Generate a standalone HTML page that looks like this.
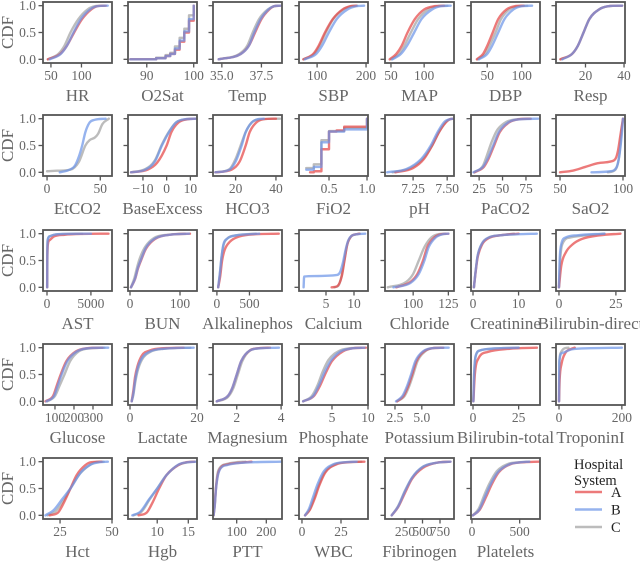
<!DOCTYPE html>
<html><head><meta charset="utf-8">
<style>
html,body{margin:0;padding:0;background:#fff;}
svg{display:block;font-family:"Liberation Serif",serif;}
</style></head>
<body>
<svg id="chart" width="640" height="578" viewBox="0 0 640 578" xmlns="http://www.w3.org/2000/svg"></svg>
<script>
const panelNames=["HR","O2Sat","Temp","SBP","MAP","DBP","Resp",
"EtCO2","BaseExcess","HCO3","FiO2","pH","PaCO2","SaO2",
"AST","BUN","Alkalinephos","Calcium","Chloride","Creatinine","Bilirubin-direct",
"Glucose","Lactate","Magnesium","Phosphate","Potassium","Bilirubin-total","TroponinI",
"Hct","Hgb","PTT","WBC","Fibrinogen","Platelets"];
const xLims=[[37,150],[86,100.7],[34.44,38.8],[63,204],[41,145],[26.5,126.5],[4.7,40.5],
[-3.8,61],[-16.3,12.8],[8.8,43],[0.105,1.013],[7.044,7.55],[16.3,90],[46.8,101.6],
[-455,7400],[-4,134],[-60,1000],[0.18,12.5],[80,129],[-0.44,14.7],[-1.3,29],
[37,400],[-0.6,20],[0.93,4.04],[0.42,10],[1.57,8],[-1.1,36.7],[-9.6,210],
[16.8,50],[5.3,16.4],[20,253],[-1.9,42.3],[-36,950],[-10,713]];
const xTicks=[[50,100],[90,100],[35.0,37.5],[100,200],[50,100],[50,100],[20,40],
[0,50],[-10,0,10],[20,40],[0.5,1.0],[7.25,7.50],[25,50,75],[50,100],
[0,5000],[0,100],[0,500],[5,10],[100,125],[0,10],[0,25],
[100,200,300],[0,20],[2,4],[5,10],[2.5,5.0],[0,25],[0,200],
[25,50],[10,15],[100,200],[0,25],[250,500,750],[0,500]];
const xTickLabels=[["50","100"],["90","100"],["35.0","37.5"],["100","200"],["50","100"],["50","100"],["20","40"],
["0","50"],["\u221210","0","10"],["20","40"],["0.5","1.0"],["7.25","7.50"],["25","50","75"],["50","100"],
["0","5000"],["0","100"],["0","500"],["5","10"],["100","125"],["0","10"],["0","25"],
["100","200","300"],["0","20"],["2","4"],["5","10"],["2.5","5.0"],["0","25"],["0","200"],
["25","50"],["10","15"],["100","200"],["0","25"],["250","500","750"],["0","500"]];
const stepPanels=["O2Sat","FiO2"];
const yTicks=[0,0.5,1];
const yTickLabels=["0.0","0.5","1.0"];
const seriesNames=["A","B","C"];
const serA=[
[[45,0],[65,.1],[76,.25],[88,.5],[101,.75],[116,.93],[126,.99],[140,1]],
[[86.5,0],[92,.02],[94,.06],[95,.1],[96,.18],[97,.33],[98,.5],[99,.72],[100,1]],
[[34.8,0],[36.2,.1],[36.7,.25],[37.1,.5],[37.5,.75],[38.0,.93],[38.3,.99],[38.7,1]],
[[72,0],[92,.1],[103,.25],[116,.5],[132,.75],[152,.93],[168,.99],[180,1]],
[[48,0],[58,.1],[66,.25],[75,.5],[86,.75],[100,.93],[115,.99],[130,1]],
[[35,0],[44,.1],[50,.25],[58,.5],[66,.75],[78,.93],[90,.99],[103,1]],
[[7,0],[13,.1],[16,.25],[19,.5],[22,.75],[27,.93],[32,.99],[39,1]],
[],
[[-15,0],[-8,.05],[-4,.18],[0,.5],[2,.75],[5,.93],[9,.99],[12,1]],
[[10,0],[18,.05],[22,.2],[25,.5],[27,.75],[30,.92],[34,.99],[40,1]],
[[.25,0],[.3,.02],[.4,.02],[.4,.43],[.5,.43],[.5,.76],[.6,.78],[.7,.8],[.7,.85],[1,.9],[1,1]],
[[7.12,0],[7.25,.08],[7.33,.25],[7.39,.5],[7.44,.75],[7.49,.93],[7.52,.99],[7.55,1]],
[[20,0],[30,.1],[35,.25],[41,.5],[47,.75],[57,.93],[68,.99],[80,1]],
[[50,0],[60,.03],[70,.1],[80,.17],[90,.2],[94,.25],[96,.4],[98,.7],[100,1]],
[[20,0],[40,.5],[100,.8],[300,.88],[800,.95],[2000,.98],[4000,.995],[7000,1]],
[[2,0],[10,.15],[16,.35],[22,.5],[32,.72],[50,.9],[80,.98],[120,1]],
[[20,0],[50,.2],[80,.5],[120,.7],[200,.85],[350,.95],[600,.99],[950,1]],
[[6,0],[7,.02],[7.8,.2],[8.3,.5],[8.8,.8],[9.5,.95],[10.5,.99],[11,1]],
[[88,0],[98,.1],[103,.25],[107,.5],[110,.75],[115,.93],[120,.99],[125,1]],
[[.2,0],[.6,.3],[1,.55],[2,.8],[3.5,.92],[6,.97],[10,1]],
[[0,0],[1,.4],[3,.65],[6,.8],[10,.9],[18,.97],[27,1]],
[[50,0],[90,.1],[110,.3],[130,.5],[160,.75],[210,.93],[270,.99],[350,1]],
[[.5,0],[1,.2],[1.5,.45],[2.2,.65],[3.5,.85],[6,.95],[10,.99],[16,1]],
[[1.1,0],[1.6,.1],[1.8,.25],[2.0,.5],[2.2,.75],[2.6,.95],[3.0,.99],[3.5,1]],
[[1,0],[2.5,.1],[3.3,.28],[4.2,.55],[5,.75],[6.5,.93],[8,.99],[9.7,1]],
[[2.7,0],[3.3,.1],[3.7,.27],[4.1,.5],[4.5,.75],[5.2,.93],[6,.99],[7,1]],
[[.2,0],[1,.5],[3,.8],[8,.92],[20,.98],[35,1]],
[[0,0],[2,.4],[8,.7],[20,.9],[40,.98],[50,1]],
[[20,0],[24,.05],[27,.25],[30,.5],[33,.75],[37,.93],[40,.99],[45,1]],
[[7,0],[8.3,.05],[9.3,.25],[10.3,.5],[11.5,.75],[13.3,.93],[14.7,.99],[16,1]],
[[22,0],[26,.2],[30,.5],[36,.75],[45,.88],[70,.95],[110,.98],[150,1]],
[[2,0],[5,.1],[8,.3],[11,.55],[15,.8],[22,.95],[30,.99],[40,1]],
[[60,0],[150,.15],[250,.42],[350,.68],[500,.88],[700,.98],[900,1]],
[[10,0],[80,.1],[150,.35],[200,.55],[280,.8],[400,.95],[550,.99],[700,1]]];
const serB=[
[[48,0],[66,.1],[76,.25],[87,.5],[99,.75],[114,.93],[126,.99],[143,1]],
[[86.5,0],[92,.02],[94,.06],[95,.1],[96,.2],[97,.35],[98,.52],[99,.75],[100,1]],
[[34.8,0],[36.2,.1],[36.7,.25],[37.05,.5],[37.45,.75],[37.95,.93],[38.3,.99],[38.7,1]],
[[75,0],[98,.1],[110,.25],[124,.5],[140,.75],[162,.93],[180,.99],[196,1]],
[[52,0],[65,.1],[74,.25],[85,.5],[96,.75],[112,.93],[125,.99],[140,1]],
[[38,0],[50,.1],[57,.25],[66,.5],[75,.75],[88,.93],[100,.99],[115,1]],
[[8,0],[13,.1],[16,.25],[19,.5],[22,.75],[27,.93],[32,.99],[39,1]],
[[12,0],[20,.04],[26,.12],[30,.3],[33,.5],[36,.75],[40,.93],[45,.98],[55,1]],
[[-15,0],[-9,.05],[-5,.2],[-2,.5],[1,.75],[4,.93],[8,.99],[13,1]],
[[10,0],[17,.05],[20,.2],[23,.5],[25,.75],[28,.93],[31,.99],[34,1]],
[[.2,.05],[.3,.1],[.4,.1],[.4,.56],[.5,.56],[.5,.76],[.7,.8],[1,.88],[1,1]],
[[7.06,0],[7.2,.06],[7.31,.25],[7.38,.5],[7.43,.75],[7.48,.94],[7.52,.99],[7.55,1]],
[[19,0],[29,.1],[34,.25],[40,.5],[46,.75],[56,.93],[70,.99],[88,1]],
[[75,0],[90,.02],[95,.1],[97,.3],[99,.7],[100,1]],
[[20,0],[35,.6],[80,.88],[300,.95],[800,.98],[2000,.995],[5000,1]],
[[2,0],[10,.16],[16,.37],[22,.52],[32,.74],[50,.91],[80,.98],[118,1]],
[[20,0],[45,.25],[70,.55],[100,.8],[150,.9],[300,.97],[500,.99],[650,1]],
[[1,0],[1.1,.2],[3,.21],[7,.23],[7.5,.28],[8,.45],[8.5,.7],[9,.88],[10,.98],[12,1]],
[[86,0],[98,.08],[104,.25],[108,.5],[111,.75],[116,.93],[121,.99],[125,1]],
[[.2,0],[.6,.32],[1,.58],[2,.82],[3.5,.93],[6,.97],[10,.99],[14,1]],
[[0,0],[.3,.5],[1,.8],[3,.93],[8,.97],[20,1]],
[[55,0],[95,.1],[115,.3],[135,.5],[165,.75],[215,.93],[280,.99],[380,1]],
[[.5,0],[1,.15],[1.5,.38],[2.2,.6],[3.5,.8],[6,.93],[10,.98],[19,1]],
[[1.1,0],[1.6,.1],[1.8,.25],[2.0,.5],[2.2,.75],[2.6,.95],[3.1,.99],[3.9,1]],
[[1,0],[2.4,.1],[3.2,.3],[4,.55],[4.8,.75],[6.2,.93],[8,.99],[9.5,1]],
[[2.6,0],[3.2,.1],[3.6,.27],[4.0,.5],[4.4,.75],[5.1,.93],[6,.99],[7.5,1]],
[[.2,0],[.6,.5],[1.5,.85],[4,.95],[10,.98],[25,1]],
[[0,0],[1,.75],[10,.9],[40,.97],[100,.99],[200,1]],
[[18,0],[22,.1],[26,.3],[30,.5],[35,.8],[40,.95],[44,.99],[48,1]],
[[6,0],[7.3,.07],[8.7,.3],[10,.5],[11.5,.75],[13.5,.95],[15,.99],[16.5,1]],
[[22,0],[26,.18],[30,.48],[36,.73],[45,.87],[70,.94],[120,.98],[250,1]],
[[2,0],[4.5,.12],[7,.33],[10,.58],[14,.82],[20,.95],[28,.99],[35,1]],
[[60,0],[150,.16],[250,.45],[350,.7],[500,.9],[700,.98],[900,1]],
[[10,0],[75,.1],[140,.36],[190,.56],[270,.8],[390,.95],[520,.99],[600,1]]];
const serC=[
[[45,0],[62,.1],[72,.25],[82,.5],[95,.75],[110,.93],[122,.99],[138,1]],
[[86.5,0],[92,.03],[94,.08],[95,.12],[96,.24],[97,.4],[98,.57],[99,.82],[100,1]],
[[34.8,0],[36.1,.1],[36.6,.25],[36.95,.5],[37.35,.75],[37.9,.93],[38.3,.99],[38.6,1]],
[[72,0],[94,.1],[105,.25],[118,.5],[133,.75],[154,.93],[170,.99],[182,1]],
[[50,0],[62,.1],[70,.25],[80,.5],[91,.75],[106,.93],[120,.99],[135,1]],
[[36,0],[47,.1],[53,.25],[62,.5],[70,.75],[82,.93],[95,.99],[108,1]],
[[7,0],[13,.1],[16,.25],[19,.5],[22,.75],[27,.93],[32,.99],[39,1]],
[[0,.02],[10,.03],[22,.05],[30,.2],[36,.5],[40,.6],[45,.65],[48,.72],[52,.9],[58,1]],
[[-15,0],[-9,.06],[-5,.22],[-2,.52],[1,.76],[4,.93],[8,.99],[12,1]],
[[10,0],[17,.06],[20,.25],[22.5,.5],[25,.75],[28,.93],[33,.99],[42,1]],
[[.2,.08],[.3,.15],[.4,.15],[.4,.6],[.5,.6],[.5,.77],[.7,.83],[1,.92],[1,1]],
[[7.1,0],[7.23,.08],[7.32,.25],[7.39,.5],[7.44,.75],[7.49,.94],[7.52,.99],[7.55,1]],
[[20,0],[29,.12],[33,.3],[38,.55],[44,.78],[54,.94],[66,.99],[80,1]],
[[88,0],[94,.05],[97,.3],[99,.8],[100,1]],
[[20,0],[35,.6],[80,.88],[300,.95],[800,.98],[2000,.995],[4000,1]],
[[2,0],[9,.18],[15,.4],[20,.55],[30,.75],[48,.92],[75,.98],[110,1]],
[[20,0],[45,.25],[70,.55],[100,.78],[150,.9],[300,.97],[450,.99],[600,1]],
[[6.5,0],[7.2,.03],[7.8,.22],[8.3,.52],[8.8,.8],[9.5,.95],[10.5,.99],[11,1]],
[[82,0],[95,.1],[100,.25],[104,.5],[108,.75],[113,.93],[118,.99],[123,1]],
[[.2,0],[.6,.32],[1,.58],[2,.82],[3.5,.93],[6,.97],[9,1]],
[[0,0],[.5,.5],[2,.85],[5,.93],[15,.98],[20,1]],
[[60,0],[100,.1],[125,.3],[150,.5],[180,.75],[225,.93],[290,.99],[360,1]],
[[.5,0],[1,.12],[1.5,.33],[2.2,.55],[3.5,.77],[6,.92],[10,.98],[18,1]],
[[1.1,0],[1.6,.08],[1.85,.25],[2.05,.5],[2.25,.75],[2.6,.95],[3.0,.99],[3.4,1]],
[[1,0],[2.2,.1],[3,.3],[3.7,.55],[4.5,.77],[6,.94],[7.5,.99],[9,1]],
[[2.7,0],[3.4,.1],[3.8,.27],[4.2,.5],[4.6,.75],[5.3,.93],[6,.99],[7,1]],
[[.2,0],[.6,.5],[1.5,.85],[4,.95],[10,.98],[25,1]],
[[0,0],[1,.7],[5,.9],[15,.98],[30,1]],
[[19,0],[23,.08],[27,.3],[30,.5],[34,.75],[39,.93],[42,.99],[46,1]],
[[6.2,0],[7.5,.07],[8.8,.3],[10,.5],[11.5,.75],[13.4,.94],[15,.99],[16,1]],
[[22,0],[26,.22],[30,.52],[35,.77],[45,.9],[70,.96],[100,.99],[130,1]],
[[2,0],[4.8,.1],[7.5,.3],[10.5,.55],[14.5,.8],[21,.95],[29,.99],[38,1]],
[[60,0],[150,.17],[250,.46],[350,.7],[500,.9],[700,.98],[880,1]],
[[10,0],[70,.12],[130,.38],[180,.58],[260,.82],[380,.96],[500,.99],[600,1]]];

const colStarts=[43,128,213,299,385,471,556];
const rowTops=[2,115,230,344,458];
const W=69,H=61;
const colors={A:"rgba(228,70,70,0.72)",B:"rgba(110,150,232,0.72)",C:"rgba(165,165,165,0.75)"};
const NS="http://www.w3.org/2000/svg";
const svg=document.getElementById("chart");
function mk(tag,attrs,parent){const e=document.createElementNS(NS,tag);for(const k in attrs)e.setAttribute(k,attrs[k]);(parent||svg).appendChild(e);return e;}

function monoPath(pts,sx,sy){
  const n=pts.length;const xs=pts.map(p=>p[0]),ys=pts.map(p=>p[1]);
  if(n<2)return "";
  const d=[],m=new Array(n);
  for(let i=0;i<n-1;i++){const h=xs[i+1]-xs[i];d.push(h===0?0:(ys[i+1]-ys[i])/h);}
  m[0]=d[0];m[n-1]=d[n-2];
  for(let i=1;i<n-1;i++){m[i]=(d[i-1]*d[i]<=0)?0:(d[i-1]+d[i])/2;}
  for(let i=0;i<n-1;i++){if(d[i]===0){m[i]=0;m[i+1]=0;continue;}
    const a=m[i]/d[i],b=m[i+1]/d[i],s=a*a+b*b;if(s>9){const t=3/Math.sqrt(s);m[i]=t*a*d[i];m[i+1]=t*b*d[i];}}
  let p="M"+sx(xs[0]).toFixed(2)+","+sy(ys[0]).toFixed(2);
  for(let i=0;i<n-1;i++){const h=xs[i+1]-xs[i];
    p+="C"+sx(xs[i]+h/3).toFixed(2)+","+sy(ys[i]+m[i]*h/3).toFixed(2)+" "+sx(xs[i+1]-h/3).toFixed(2)+","+sy(ys[i+1]-m[i+1]*h/3).toFixed(2)+" "+sx(xs[i+1]).toFixed(2)+","+sy(ys[i+1]).toFixed(2);}
  return p;
}
function stepPath(pts,sx,sy){
  let p="M"+sx(pts[0][0]).toFixed(2)+","+sy(pts[0][1]).toFixed(2);
  for(let i=1;i<pts.length;i++){p+="H"+sx(pts[i][0]).toFixed(2)+"V"+sy(pts[i][1]).toFixed(2);}
  return p;
}

const ylab=mk("g",{});



panelNames.forEach((name,i)=>{
  const r=Math.floor(i/7),c=i%7;
  const x0=colStarts[c],y0=rowTops[r];
  const g=mk("g",{});
  
  
  const [lo,hi]=xLims[i];
  const sx=v=>x0+(v-lo)/(hi-lo)*W;
  const sy=v=>y0+1+(1.05-v)/1.1*(H-2);
  const cp="clip"+i;
  const cl=mk("clipPath",{id:cp},g);mk("rect",{x:x0,y:y0,width:W,height:H},cl);
  const lines=mk("g",{"clip-path":"url(#"+cp+")"},g);
  const step=stepPanels.includes(name);
  [["C",serC],["A",serA],["B",serB]].forEach(([s,arr])=>{
    const pts=arr[i];if(!pts||!pts.length)return;
    const path=mk("path",{d:step?stepPath(pts,sx,sy):monoPath(pts,sx,sy),fill:"none",stroke:colors[s],"stroke-width":2.4,"stroke-linejoin":"round","stroke-linecap":"round"},lines);
    
    
  });
  const frame=mk("rect",{x:x0,y:y0,width:W,height:H,fill:"none",stroke:"#555","stroke-width":1.8},g);
  
  
  yTicks.forEach((t,k)=>{
    mk("line",{x1:x0-4.5,x2:x0,y1:sy(t),y2:sy(t),stroke:"#555","stroke-width":1.3},g);
    if(c===0){const tx=mk("text",{x:x0-7,y:sy(t)+4.5,"text-anchor":"end","font-size":13.5,fill:"#666"},g);tx.textContent=yTickLabels[k];
      
      }
  });
  xTicks[i].forEach((t,k)=>{
    const px=sx(t);
    mk("line",{x1:px,x2:px,y1:y0+H,y2:y0+H+4.5,stroke:"#555","stroke-width":1.3},g);
    const tx=mk("text",{x:px,y:y0+H+17,"text-anchor":"middle","font-size":13.5,fill:"#666"},g);
    tx.textContent=xTickLabels[i][k];
    
    
  });
  const xl=mk("text",{x:x0+W/2,y:y0+H+38,"text-anchor":"middle","font-size":17,fill:"#666"},g);
  xl.textContent=name;
  
  
  if(c===0){
    const cy=y0+H/2;
    const t=mk("text",{x:0,y:0,transform:"translate(13,"+cy+") rotate(-90)","text-anchor":"middle","font-size":17,fill:"#666"},ylab);
    t.textContent="CDF";
    
    
  }
});

const lg=mk("g",{});


const t1=mk("text",{x:574,y:469,"font-size":14.5,fill:"#222"},lg);t1.textContent="Hospital";
const t2=mk("text",{x:574,y:485,"font-size":14.5,fill:"#222"},lg);t2.textContent="System";
seriesNames.forEach((s,k)=>{
  const y=492+k*17.5;
  const e=mk("g",{},lg);
  
  
  mk("line",{x1:575,x2:602,y1:y,y2:y,stroke:colors[s],"stroke-width":2.6},e);
  const tx=mk("text",{x:611,y:y+5,"font-size":14.5,fill:"#222"},e);tx.textContent=s;
});
</script>
</body></html>
